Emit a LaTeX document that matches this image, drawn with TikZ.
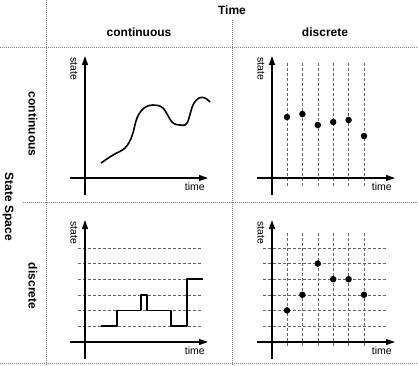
\documentclass[tikz,border=0pt]{standalone}
\usepackage{fontspec}
\setmainfont{Liberation Sans}
\usepackage{tikz}
\usetikzlibrary{arrows.meta, positioning}
\tikzstyle{frame} = [gray, line width=0.7pt, dash pattern=on 1pt off 1pt]
\tikzstyle{head} = [font=\bfseries\fontsize{12}{14}\selectfont, inner sep=1pt]
\tikzstyle{axlabel} = [font=\fontsize{10.5}{12}\selectfont, inner sep=1pt]
\tikzstyle{axis} = [line width=1.1pt, -{Triangle[length=9pt,width=6pt]}]
\tikzstyle{level} = [gray!80!black, line width=0.6pt, dash pattern=on 3pt off 2pt]
\tikzstyle{signal} = [line width=1.6pt, line join=round]
\tikzstyle{sample} = [circle, fill=black, inner sep=0pt, minimum size=6.5pt]

\begin{document}
\begin{tikzpicture}[x=1pt, y=-1pt]
\useasboundingbox (0,0) rectangle (418,365);

% table lines
\draw [frame] (46,0) -- (46,365);
\draw [frame] (232,20) -- (232,365);
\draw [frame] (0,47) -- (418,47);
\draw [frame] (23,202) -- (418,202);
\draw [frame] (0,363) -- (418,363);

\node (time) [head] at (232,10) {Time};
\node (tcont) [head] at (139,32) {continuous};
\node (tdisc) [head] at (325,32) {discrete};
\node (space) [head, rotate=-90] at (8,207) {State Space};
\node (scont) [head, rotate=-90] at (33,124) {continuous};
\node (sdisc) [head, rotate=-90] at (33,286) {discrete};

% grid of the discrete panels
\foreach \k in {0,...,5} {
  \draw [level] (287+15.4*\k,63) -- (287+15.4*\k,187);
  \draw [level] (287+15.4*\k,233) -- (287+15.4*\k,347);
  \draw [level] (78,248+15.6*\k) -- (202,248+15.6*\k);
  \draw [level] (263,248+15.6*\k) -- (388,248+15.6*\k);
}

% axes
\foreach \nm/\ox/\oy in {cc/85/178, cd/272/178, dc/85/342, dd/272/342} {
  \coordinate (\nm-ybot) at (\ox,\oy+17);
  \coordinate (\nm-ytop) at (\ox,\oy-122);
  \coordinate (\nm-xl) at (\ox-15,\oy);
  \coordinate (\nm-xr) at (\ox+123,\oy);
  \draw [axis] (\nm-ybot) -- (\nm-ytop);
  \draw [axis] (\nm-xl) -- (\nm-xr);
  \node (\nm-time) [axlabel, anchor=north east] at (\ox+121,\oy+4) {time};
  \node (\nm-state) [axlabel, rotate=-90] at (\ox-11,\oy-109) {state};
}

% continuous / continuous
\draw [signal] plot [smooth, tension=0.6] coordinates {(101,163) (113,155) (125,148)
  (132,136) (137,118) (144,108) (153,105) (163,108) (172,122) (180,125) (187,123)
  (193,105) (199,98) (205,98) (210,102)};

% continuous / discrete
\foreach \i/\sx/\sy in {1/287/117, 2/302.4/114, 3/317.8/125, 4/333.2/122, 5/348.6/120, 6/364/136}
  \node (cd-s\i) [sample] at (\sx,\sy) {};

% discrete / continuous
\draw [signal] (101,326) -- (117,326) -- (117,310.4) -- (141,310.4) -- (141,294.8)
  -- (147,294.8) -- (147,310.4) -- (171,310.4) -- (171,326) -- (187,326)
  -- (187,279.2) -- (203,279.2);

% discrete / discrete
\foreach \i/\sx/\sy in {1/287/310.4, 2/302.4/294.8, 3/317.8/263.6, 4/333.2/279.2, 5/348.6/279.2, 6/364/294.8}
  \node (dd-s\i) [sample] at (\sx,\sy) {};
\end{tikzpicture}
\end{document}
